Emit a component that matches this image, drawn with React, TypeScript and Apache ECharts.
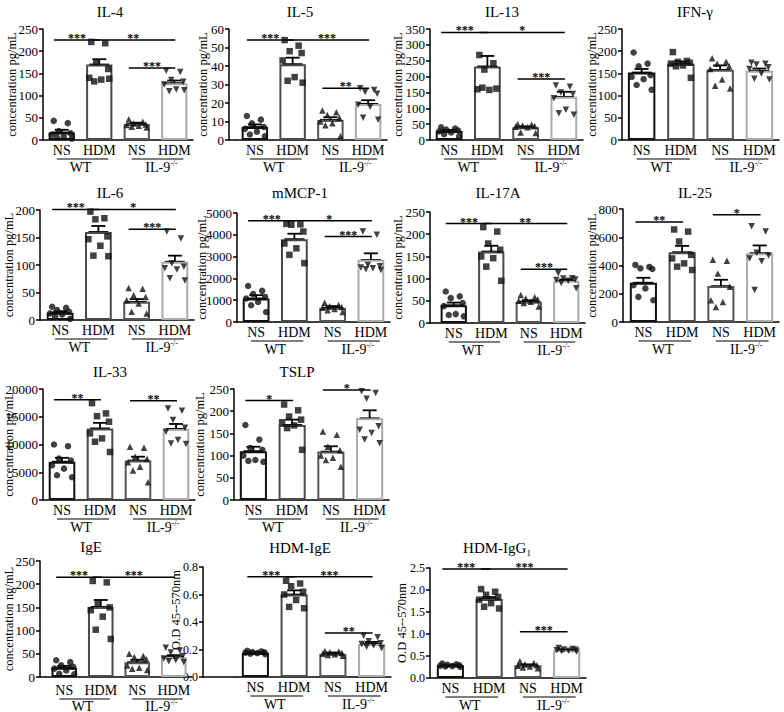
import React, { useEffect, useRef } from 'react';
import * as echarts from 'echarts';

const FONT = '"Liberation Serif", "Times New Roman", serif';

const treatments = ['NS', 'HDM', 'NS', 'HDM'];
const genotypes = ['WT', 'IL-9'];
const genotypeSup = ['', '-/-'];
const barBorderColors = ['#111111', '#4a4a4a', '#555555', '#ababab'];
const markerSymbols = ['circle', 'rect', 'triangle', 'triangle'];
const markerRotations = [0, 0, 0, 180];

// ---------- data ----------
const il4Mean = [17, 170, 36, 128];
const il4Sem = [6, 12, 3, 6];
const il4Pts = [
  [43, 38, 20, 15, 12, 8, 6, 3],
  [221, 218, 175, 160, 140, 136, 132, 138],
  [47, 41, 37, 35, 34, 32, 30, 28],
  [156, 153, 135, 131, 125, 114, 110, 112],
];
const il4Sig = [[0, 1, 225], [1, 3, 225], [2, 3, 162]];
const il4Stars = ['***', '**', '***'];

const il5Mean = [7, 41, 10.8, 19.5];
const il5Sem = [1.4, 3.5, 1.5, 2];
const il5Pts = [
  [13, 11, 9, 7, 6, 4.5, 3, 2],
  [54, 51, 48, 47, 43, 34, 32, 31],
  [16, 15, 13.5, 12, 10, 9, 8, 2],
  [28, 27, 26, 25, 19, 18, 12, 11],
];
const il5Sig = [[0, 1, 54], [1, 3, 54], [2, 3, 28]];
const il5Stars = ['***', '***', '**'];

const il13Mean = [28, 232, 40, 136];
const il13Sem = [4, 33, 3, 16];
const il13Pts = [
  [40, 36, 33, 30, 27, 24, 18, 12],
  [268, 242, 222, 162, 160, 158, 165],
  [50, 48, 46, 44, 42, 40, 24, 22],
  [172, 168, 150, 145, 132, 95, 84, 80],
];
const il13Sig = [[0, 1, 339], [1, 3, 339], [2, 3, 192]];
const il13Stars = ['***', '*', '***'];

const ifngMean = [152, 172, 158, 156];
const ifngSem = [8, 5, 10, 5];
const ifngPts = [
  [197, 172, 166, 146, 142, 137, 124, 113],
  [198, 178, 176, 174, 172, 168, 166, 140],
  [184, 176, 172, 166, 160, 136, 122, 116],
  [174, 172, 170, 164, 160, 150, 138, 136],
];
const ifngSig: number[][] = [];
const ifngStars: string[] = [];

const il6Mean = [13, 160, 33, 106];
const il6Sem = [3, 11, 5, 11];
const il6Pts = [
  [24, 22, 18, 15, 12, 10, 6, 2],
  [197, 185, 183, 152, 147, 135, 117, 116],
  [58, 57, 45, 42, 36, 30, 15, 12],
  [161, 148, 103, 97, 94, 92, 76, 72],
];
const il6Sig = [[0, 1, 201], [1, 3, 201], [2, 3, 165]];
const il6Stars = ['***', '*', '***'];

const mcpMean = [1080, 3800, 650, 2850];
const mcpSem = [150, 250, 80, 300];
const mcpPts = [
  [1650, 1430, 1280, 1150, 1080, 920, 770, 460],
  [4500, 4480, 4460, 4150, 3600, 3380, 3080, 2700],
  [880, 780, 720, 690, 650, 600, 540, 460],
  [4150, 4000, 2620, 2560, 2500, 2460, 2420, 2380],
];
const mcpSig = [[0, 1, 4650], [1, 3, 4650], [2, 3, 3920]];
const mcpStars = ['***', '*', '***'];

const il17Mean = [40, 161, 48, 95];
const il17Sem = [6, 13, 3, 3];
const il17Pts = [
  [71, 60, 56, 45, 38, 20, 18, 15],
  [216, 206, 179, 165, 150, 146, 127, 95],
  [63, 58, 55, 53, 50, 48, 45, 37],
  [112, 101, 100, 98, 97, 95, 90, 78],
];
const il17Sig = [[0, 1, 224], [1, 3, 224], [2, 3, 121]];
const il17Stars = ['***', '**', '***'];

const il25Mean = [278, 494, 254, 487];
const il25Sem = [35, 45, 45, 55];
const il25Pts = [
  [404, 390, 380, 375, 260, 238, 178, 154],
  [655, 640, 570, 475, 450, 415, 392, 368],
  [440, 434, 344, 250, 154, 142, 107],
  [678, 640, 490, 470, 450, 430, 226],
];
const il25Sig = [[0, 1, 708], [2, 3, 760]];
const il25Stars = ['**', '*'];

const il33Mean = [6900, 12900, 7100, 12800];
const il33Sem = [700, 1000, 700, 900];
const il33Pts = [
  [10000, 9700, 7450, 7100, 6250, 5650, 4450, 4100],
  [17450, 15600, 15100, 14100, 12000, 11100, 10500, 8650],
  [9600, 9400, 7800, 7450, 6800, 6000, 5300, 3200],
  [16500, 16100, 14400, 13000, 12300, 10800, 10200, 10100],
];
const il33Sig = [[0, 1, 18050], [2, 3, 17900]];
const il33Stars = ['**', '**'];

const tslpMean = [110, 169, 109, 184];
const tslpSem = [10, 12, 12, 18];
const tslpPts = [
  [169, 136, 117, 113, 100, 90, 88, 86],
  [215, 202, 188, 181, 175, 168, 162, 113],
  [154, 147, 120, 112, 100, 95, 90, 75],
  [245, 241, 228, 166, 158, 151, 136, 128],
];
const tslpSig = [[0, 1, 224], [2, 3, 248]];
const tslpStars = ['*', '*'];

const igeMean = [20, 151, 32, 43];
const igeSem = [4, 15, 5, 4];
const igePts = [
  [36, 32, 25, 22, 18, 14, 7, 6],
  [207, 204, 158, 150, 144, 130, 102, 82],
  [50, 45, 43, 38, 25, 20, 18, 15],
  [63, 57, 53, 45, 40, 36, 34, 32],
];
const igeSig = [[0, 1, 215], [1, 3, 215]];
const igeStars = ['***', '***'];

const hdmIgeMean = [0.175, 0.6, 0.17, 0.24];
const hdmIgeSem = [0.005, 0.03, 0.008, 0.015];
const hdmIgePts = [
  [0.19, 0.186, 0.182, 0.18, 0.177, 0.174, 0.17, 0.166],
  [0.7, 0.68, 0.66, 0.62, 0.6, 0.56, 0.51, 0.5],
  [0.19, 0.185, 0.18, 0.175, 0.17, 0.165, 0.16, 0.155],
  [0.3, 0.29, 0.26, 0.245, 0.24, 0.23, 0.22, 0.21],
];
const hdmIgeSig = [[0, 1, 0.73], [1, 3, 0.73], [2, 3, 0.32]];
const hdmIgeStars = ['***', '***', '**'];

const hdmIggMean = [0.29, 1.795, 0.29, 0.63];
const hdmIggSem = [0.01, 0.045, 0.02, 0.01];
const hdmIggPts = [
  [0.33, 0.31, 0.3, 0.29, 0.28, 0.27, 0.26, 0.25],
  [2.02, 1.96, 1.89, 1.84, 1.78, 1.7, 1.62, 1.58],
  [0.38, 0.34, 0.31, 0.29, 0.28, 0.26, 0.24, 0.22],
  [0.68, 0.66, 0.65, 0.64, 0.63, 0.62, 0.61, 0.6],
];
const hdmIggSig = [[0, 1, 2.48], [1, 3, 2.48], [2, 3, 1.05]];
const hdmIggStars = ['***', '***', '***'];

// ---------- layout ----------
const jitter = [-8, 6, -3, 9, -10, 2, -5, 10];

type Panel = {
  title: string; sub?: string; yName: string; yMax: number; yStep: number; dec: number;
  mean: number[]; sem: number[]; pts: number[][]; sig: number[][]; stars: string[];
  box: number[]; yOff: number; tXY: number[]; nameX: number; nameDy?: number; xMargin?: number;
};

const pg = 'concentration pg/mL';
const panels: Panel[] = [
  { title: 'IL-4', yName: pg, yMax: 250, yStep: 50, dec: 0, mean: il4Mean, sem: il4Sem, pts: il4Pts, sig: il4Sig, stars: il4Stars, box: [43, 29, 193, 140], yOff: 0, tXY: [110, 12], nameX: 12 },
  { title: 'IL-5', yName: pg, yMax: 60, yStep: 10, dec: 0, mean: il5Mean, sem: il5Sem, pts: il5Pts, sig: il5Sig, stars: il5Stars, box: [236, 29, 387, 140], yOff: 7, tXY: [300, 12], nameX: 203 },
  { title: 'IL-13', yName: pg, yMax: 350, yStep: 50, dec: 0, mean: il13Mean, sem: il13Sem, pts: il13Pts, sig: il13Sig, stars: il13Stars, box: [430, 29, 583, 140], yOff: 0, tXY: [502, 12], nameX: 398 },
  { title: 'IFN-γ', yName: pg, yMax: 250, yStep: 50, dec: 0, mean: ifngMean, sem: ifngSem, pts: ifngPts, sig: ifngSig, stars: ifngStars, box: [622, 29, 779, 140], yOff: 0, tXY: [695, 12], nameX: 592 },
  { title: 'IL-6', yName: pg, yMax: 200, yStep: 50, dec: 0, mean: il6Mean, sem: il6Sem, pts: il6Pts, sig: il6Sig, stars: il6Stars, box: [41, 210, 194, 320], yOff: 1, tXY: [110, 193], nameX: 9 },
  { title: 'mMCP-1', yName: pg, yMax: 5000, yStep: 1000, dec: 0, mean: mcpMean, sem: mcpSem, pts: mcpPts, sig: mcpSig, stars: mcpStars, box: [237, 213, 390, 322], yOff: 0, tXY: [300, 193], nameX: 202 },
  { title: 'IL-17A', yName: pg, yMax: 250, yStep: 50, dec: 0, mean: il17Mean, sem: il17Sem, pts: il17Pts, sig: il17Sig, stars: il17Stars, box: [435, 212, 585, 323], yOff: 5, tXY: [498, 193], nameX: 398 },
  { title: 'IL-25', yName: pg, yMax: 800, yStep: 200, dec: 0, mean: il25Mean, sem: il25Sem, pts: il25Pts, sig: il25Sig, stars: il25Stars, box: [624, 209, 779, 322], yOff: 1, tXY: [695, 193], nameX: 592 },
  { title: 'IL-33', yName: pg, yMax: 20000, yStep: 5000, dec: 0, mean: il33Mean, sem: il33Sem, pts: il33Pts, sig: il33Sig, stars: il33Stars, box: [43, 389, 195, 500], yOff: 0, tXY: [110, 372], nameX: 9 },
  { title: 'TSLP', yName: pg, yMax: 250, yStep: 50, dec: 0, mean: tslpMean, sem: tslpSem, pts: tslpPts, sig: tslpSig, stars: tslpStars, box: [234, 389, 389, 500], yOff: 0, tXY: [297, 372], nameX: 200 },
  { title: 'IgE', yName: 'concentration ng/mL', yMax: 250, yStep: 50, dec: 0, mean: igeMean, sem: igeSem, pts: igePts, sig: igeSig, stars: igeStars, box: [46, 561, 192, 677], yOff: 6, tXY: [91, 547], nameX: 9, xMargin: 6 },
  { title: 'HDM-IgE', yName: 'O.D 45--570nm', yMax: 0.8, yStep: 0.2, dec: 1, mean: hdmIgeMean, sem: hdmIgeSem, pts: hdmIgePts, sig: hdmIgeSig, stars: hdmIgeStars, box: [236, 567, 391, 677], yOff: 33, tXY: [300, 548], nameX: 176, nameDy: -12 },
  { title: 'HDM-IgG', sub: '1', yName: 'O.D 45--570nm', yMax: 2.5, yStep: 0.5, dec: 1, mean: hdmIggMean, sem: hdmIggSem, pts: hdmIggPts, sig: hdmIggSig, stars: hdmIggStars, box: [431, 568, 586, 678], yOff: 1, tXY: [497, 548], nameX: 402 },
];

function buildOption() {
  const grid: any[] = [];
  const xAxis: any[] = [];
  const yAxis: any[] = [];
  const series: any[] = [];
  const graphic: any[] = [];
  const axisLine = { show: true, lineStyle: { color: '#000', width: 1.5 } };

  panels.forEach((p, k) => {
    const [l, t, r, b] = p.box;
    const xm = p.xMargin ?? 3;
    const extra = xm - 3;
    grid.push({ left: l, top: t, width: r - l, height: b - t });
    xAxis.push({
      type: 'category', gridIndex: k, data: treatments, boundaryGap: true,
      axisLine, axisTick: { show: false },
      axisLabel: { interval: 0, color: '#000', fontFamily: FONT, fontSize: 14, margin: xm },
    });
    yAxis.push({
      type: 'value', gridIndex: k, min: 0, max: p.yMax, interval: p.yStep, offset: p.yOff,
      axisLine, axisTick: { show: true, length: 4, lineStyle: { color: '#000', width: 1.5 } },
      splitLine: { show: false },
      axisLabel: { color: '#000', fontFamily: FONT, fontSize: p.dec ? 12 : 13, margin: 5, formatter: (v: number) => v.toFixed(p.dec) },
    });
    if (p.yOff > 0) {
      // extend the x-axis line to meet the offset y-axis
      graphic.push({ type: 'line', shape: { x1: l - p.yOff, y1: b, x2: l, y2: b }, style: { stroke: '#000', lineWidth: 1.5 } });
    }
    series.push({
      type: 'bar', xAxisIndex: k, yAxisIndex: k, barWidth: '70%',
      data: p.mean.map((v, i) => ({ value: v, itemStyle: { color: '#fff', borderColor: barBorderColors[i], borderWidth: 2 } })),
    });
    const scatterData: any[] = [];
    p.pts.forEach((arr, g) => arr.forEach((v, j) => scatterData.push({
      value: [g, v], symbol: markerSymbols[g], symbolRotate: markerRotations[g], symbolOffset: [jitter[j % jitter.length], 0],
    })));
    series.push({ type: 'scatter', xAxisIndex: k, yAxisIndex: k, symbolSize: 6.5, itemStyle: { color: '#111' }, data: scatterData });
    series.push({
      type: 'custom', xAxisIndex: k, yAxisIndex: k,
      data: p.mean.map((m, i) => [i, m, p.sem[i]]),
      renderItem: (params: any, api: any) => {
        const i = api.value(0), m = api.value(1), s = api.value(2);
        const top = api.coord([i, m + s]);
        const bot = api.coord([i, m - s]);
        const mid = api.coord([i, m]);
        const st = { stroke: '#000', lineWidth: 1.8 };
        return {
          type: 'group', children: [
            { type: 'line', shape: { x1: top[0], y1: top[1], x2: bot[0], y2: bot[1] }, style: st },
            { type: 'line', shape: { x1: top[0] - 7, y1: top[1], x2: top[0] + 7, y2: top[1] }, style: st },
            { type: 'line', shape: { x1: bot[0] - 7, y1: bot[1], x2: bot[0] + 7, y2: bot[1] }, style: st },
            { type: 'line', shape: { x1: mid[0] - 10, y1: mid[1], x2: mid[0] + 10, y2: mid[1] }, style: st },
          ],
        };
      },
    });
    if (p.sig.length) {
      series.push({
        type: 'custom', xAxisIndex: k, yAxisIndex: k, data: p.sig,
        renderItem: (params: any, api: any) => {
          const a = api.coord([api.value(0), api.value(2)]);
          const c = api.coord([api.value(1), api.value(2)]);
          const x1 = a[0] - 8, x2 = c[0] + 1;
          return {
            type: 'group', children: [
              { type: 'line', shape: { x1, y1: a[1], x2, y2: a[1] }, style: { stroke: '#000', lineWidth: 1.5 } },
              { type: 'text', x: (x1 + x2) / 2, y: a[1] - 2, style: { text: p.stars[params.dataIndex], fill: '#000', font: `bold 12px ${FONT}`, textAlign: 'center', textVerticalAlign: 'middle', align: 'center', verticalAlign: 'middle' } },
            ],
          };
        },
      });
    }
    series.push({
      type: 'custom', xAxisIndex: k, yAxisIndex: k, data: [[0, 1], [2, 3]],
      renderItem: (params: any, api: any) => {
        const a = api.coord([api.value(0), 0]);
        const c = api.coord([api.value(1), 0]);
        const y0 = a[1];
        const gi = params.dataIndex;
        const text = genotypeSup[gi] ? `{g|${genotypes[gi]}}{s|${genotypeSup[gi]}}` : `{g|${genotypes[gi]}}`;
        const cx = (a[0] + c[0]) / 2 + (gi === 0 ? 0 : 6);
        return {
          type: 'group', children: [
            { type: 'line', shape: { x1: a[0] - 5, y1: y0 + 19 + extra, x2: c[0] + 9, y2: y0 + 19 + extra }, style: { stroke: '#000', lineWidth: 1.2 } },
            {
              type: 'text', x: cx, y: y0 + 27 + Math.min(extra, 2),
              style: {
                text, textAlign: 'center', textVerticalAlign: 'middle', align: 'center', verticalAlign: 'middle',
                rich: {
                  g: { fontFamily: FONT, fontSize: 14, lineHeight: 16, fill: '#000', color: '#000' },
                  s: { fontFamily: FONT, fontSize: 8, lineHeight: 8, verticalAlign: 'top', fill: '#000', color: '#000' },
                },
              },
            },
          ],
        };
      },
    });

    const titleText = p.sub ? `{m|${p.title}}{s|${p.sub}}` : `{m|${p.title}}`;
    graphic.push({
      type: 'text', x: p.tXY[0], y: p.tXY[1],
      style: {
        text: titleText, textAlign: 'center', textVerticalAlign: 'middle', align: 'center', verticalAlign: 'middle',
        rich: {
          m: { fontFamily: FONT, fontSize: 15, lineHeight: 18, fill: '#000', color: '#000' },
          s: { fontFamily: FONT, fontSize: 9, lineHeight: 9, verticalAlign: 'bottom', fill: '#000', color: '#000' },
        },
      },
    });
    graphic.push({
      type: 'text', x: p.nameX, y: (t + b) / 2 + (p.nameDy || 0), rotation: Math.PI / 2,
      style: { text: p.yName, fill: '#000', font: `12.5px ${FONT}`, textAlign: 'center', textVerticalAlign: 'middle', align: 'center', verticalAlign: 'middle' },
    });
  });

  return { animation: false, backgroundColor: '#fff', grid, xAxis, yAxis, series, graphic };
}

export default function App() {
  const ref = useRef<HTMLDivElement>(null);
  useEffect(() => {
    if (!ref.current) return;
    const chart = echarts.init(ref.current, undefined, { renderer: 'svg' });
    chart.setOption(buildOption() as any);
    return () => chart.dispose();
  }, []);
  return <div ref={ref} style={{ position: 'fixed', left: 0, top: 0, width: 784, height: 712 }} />;
}
